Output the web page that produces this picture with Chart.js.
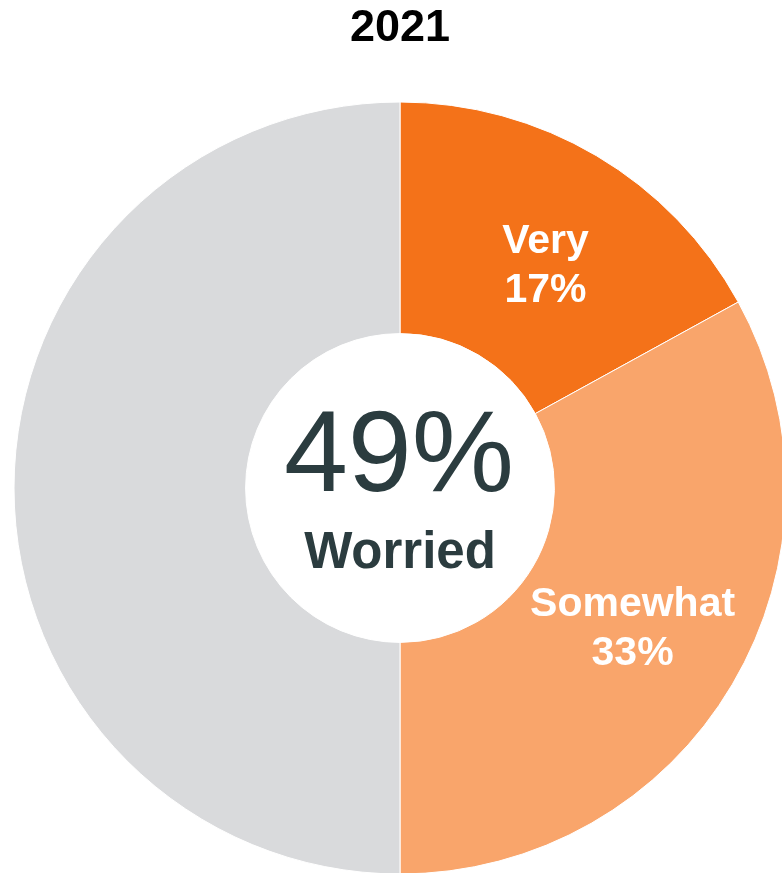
<!DOCTYPE html>
<html>
<head>
<meta charset="utf-8">
<title>2021</title>
<script src="https://cdn.jsdelivr.net/npm/chart.js@4/dist/chart.umd.min.js"></script>
<style>
  html, body { margin: 0; padding: 0; background: #fff; overflow: hidden; }
  #wrap { position: absolute; left: 0; top: 0; width: 800px; height: 888px; }
</style>
</head>
<body>
<div id="wrap"><canvas id="worryChart" width="800" height="888"></canvas></div>
<script>
const chartTitle = "2021";
const categories = ["Very", "Somewhat", "Not worried"];
const shares = [17, 33, 50];
const sliceColors = ["#F47219", "#F9A56B", "#D9DADC"];
const labelledSlices = [0, 1];
const worriedTotal = 49;
const worriedLabel = "Worried";

const FONT = "'Liberation Sans', Arial, sans-serif";
const DARK = "#2B3C3F";
// small hand nudges so the labels sit nicely inside the thin slice
const labelNudge = { 0: [8, 8], 1: [0, 0] };

// white "Very / 17%" labels sitting in the middle of each slice
const sliceLabels = {
  id: "sliceLabels",
  afterDatasetsDraw(chart) {
    const ctx = chart.ctx;
    const arcs = chart.getDatasetMeta(0).data;
    ctx.save();
    ctx.fillStyle = "#fff";
    ctx.textAlign = "center";
    ctx.textBaseline = "alphabetic";
    ctx.font = "bold 41px " + FONT;
    labelledSlices.forEach(i => {
      const p = arcs[i].tooltipPosition();
      const [dx, dy] = labelNudge[i];
      ctx.fillText(categories[i], p.x + dx, p.y + dy - 10);
      ctx.fillText(shares[i] + "%", p.x + dx, p.y + dy + 39);
    });
    ctx.restore();
  }
};

// big headline number in the hole
const centerText = {
  id: "centerText",
  afterDatasetsDraw(chart) {
    const ctx = chart.ctx;
    const arc = chart.getDatasetMeta(0).data[0];
    const cx = arc.x, cy = arc.y;
    ctx.save();
    ctx.fillStyle = DARK;
    ctx.textAlign = "center";
    ctx.textBaseline = "alphabetic";
    ctx.font = "115px " + FONT;
    ctx.fillText(worriedTotal + "%", cx - 1, cy + 3);
    ctx.font = "bold 51px " + FONT;
    ctx.fillText(worriedLabel, cx, cy + 80);
    ctx.restore();
  }
};

new Chart(document.getElementById("worryChart"), {
  type: "doughnut",
  data: {
    labels: categories,
    datasets: [{
      data: shares,
      backgroundColor: sliceColors,
      borderColor: "#fff",
      borderWidth: 1,
      radius: 386,
      hoverOffset: 0
    }]
  },
  options: {
    responsive: false,
    animation: false,
    cutout: "40%",
    events: [],
    layout: { padding: 0 },
    plugins: {
      legend: { display: false },
      tooltip: { enabled: false },
      title: {
        display: true,
        text: chartTitle,
        color: "#000",
        font: { family: FONT, size: 45, weight: "bold", lineHeight: 1.2 },
        padding: { top: 2, bottom: 32 }
      }
    }
  },
  plugins: [sliceLabels, centerText]
});
</script>
</body>
</html>
